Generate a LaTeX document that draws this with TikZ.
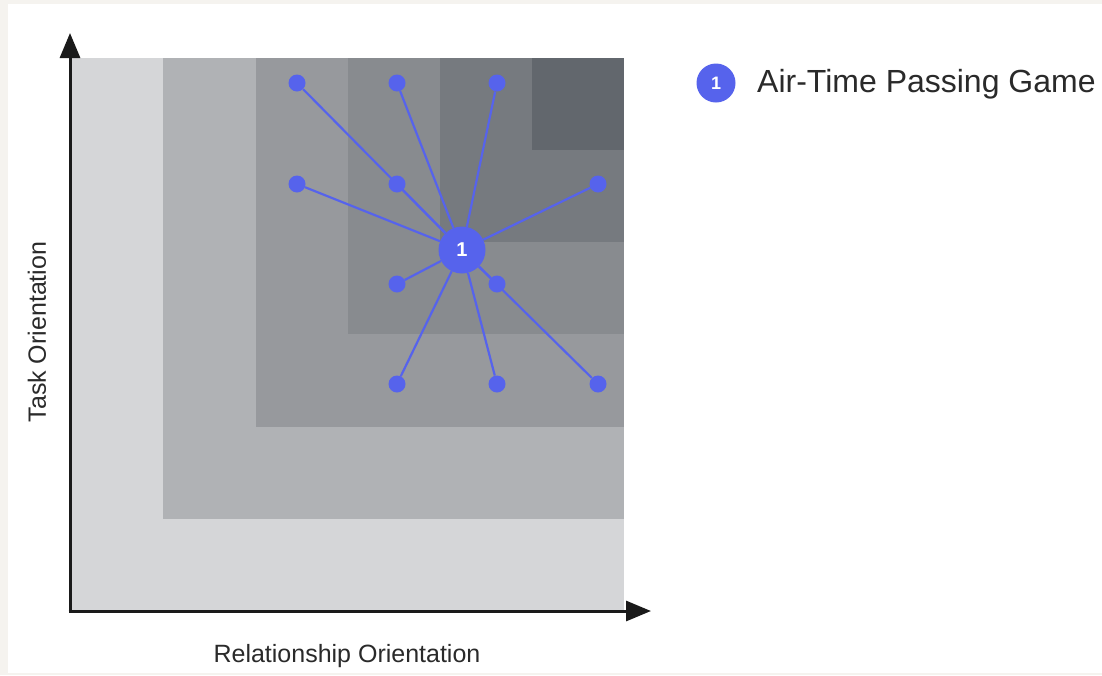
\documentclass[tikz,border=0pt]{standalone}
\usepackage{fontspec}
\setmainfont{Liberation Sans}
\usetikzlibrary{arrows.meta}
\definecolor{bgbeige}{HTML}{F5F3EF}
\definecolor{lvA}{HTML}{D5D6D8}
\definecolor{lvB}{HTML}{B0B2B5}
\definecolor{lvC}{HTML}{97999D}
\definecolor{lvD}{HTML}{888B8F}
\definecolor{lvE}{HTML}{767A7F}
\definecolor{lvF}{HTML}{62676D}
\definecolor{nodeblue}{HTML}{5663EC}
\definecolor{axisblack}{HTML}{1A1A1A}
\definecolor{labelgray}{HTML}{2A2A2A}
\tikzset{
  leaf/.style={circle,fill=nodeblue,inner sep=0pt,minimum size=17pt},
  hub/.style={circle,fill=nodeblue,inner sep=0pt,minimum size=47pt,text=white,font=\bfseries\fontsize{20}{20}\selectfont},
  link/.style={draw=nodeblue,line width=2.2pt},
  axis/.style={draw=axisblack,line width=3pt,-{Triangle[length=25pt,width=20pt]}},
  lbl/.style={text=labelgray,font=\fontsize{25}{25}\selectfont}
}
\begin{document}
\begin{tikzpicture}[x=1pt,y=-1pt]
\useasboundingbox (0,0) rectangle (1102,675);
\fill[bgbeige] (0,0) rectangle (1102,675);
\fill[white] (8,4) rectangle (1102,673);
% nested squares
\fill[lvA] (71,58) rectangle (624,610);
\fill[lvB] (163,58) rectangle (624,519);
\fill[lvC] (256,58) rectangle (624,427);
\fill[lvD] (348,58) rectangle (624,334);
\fill[lvE] (440,58) rectangle (624,242);
\fill[lvF] (532,58) rectangle (624,150);
% axes
\coordinate (ytip) at (70,33);
\coordinate (xtip) at (651,611);
\draw[axis] (70,612.5) -- (ytip);
\draw[axis] (68.5,611) -- (xtip);
% nodes
\node[hub] (h) at (462,250) {1};
\foreach \n/\x/\y in {a/297/83,b/397/83,c/497/83,d/297/184,e/397/184,f/598/184,g/397/284,i/497/284,j/397/384,k/497/384,m/598/384}{
  \node[leaf] (\n) at (\x,\y) {};
}
\foreach \n in {a,b,c,d,e,f,g,i,j,k,m}{
  \draw[link] (h) -- (\n);
}
% labels
\node[lbl,rotate=90] (tl) at (37,332) {Task Orientation};
\node[lbl] (rl) at (347,656) {Relationship Orientation};
% legend
\node[circle,fill=nodeblue,inner sep=0pt,minimum size=39pt,text=white,font=\bfseries\fontsize{18}{18}\selectfont] (lg) at (716,83) {1};
\node[anchor=west,text=labelgray,font=\fontsize{32}{32}\selectfont,inner sep=0pt] (lt) at (757,84) {Air-Time Passing Game};
\end{tikzpicture}
\end{document}
